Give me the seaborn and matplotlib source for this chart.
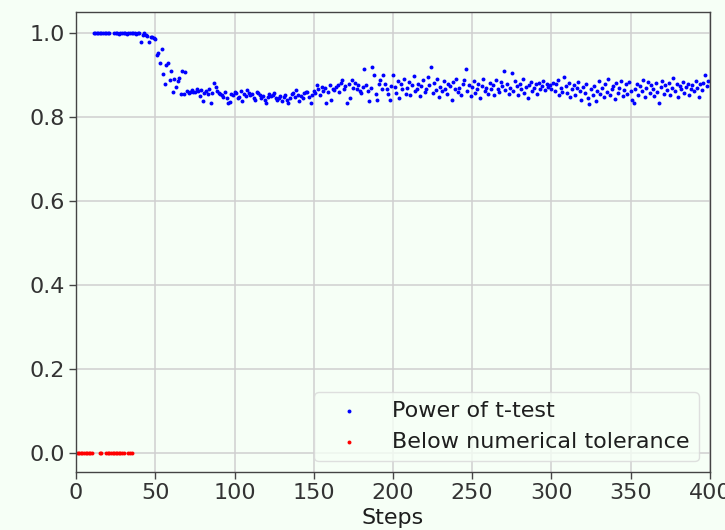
import numpy as np
import pandas as pd
import matplotlib
matplotlib.use("Agg")
import matplotlib.pyplot as plt
import seaborn as sns

# ---- data ----
blue_steps = list(range(11, 22)) + list(range(24, 400))
blue_values = (
    [1.0] * 11 +                                   # 11-21
    [1.0, 1.0, 1.0, 0.999, 1.0, 1.0, 1.0, 1.0, 0.999, 1.0,
     1.0, 1.0, 1.0, 1.0, 0.999, 1.0, 1.0] +        # 24-40
    [0.979, 0.995, 1.0, 0.996, 0.993, 0.980, 0.992, 0.990, 0.988, 0.986] +  # 41-50
    [0.948, 0.952, 0.930, 0.962, 0.902, 0.880, 0.924, 0.930, 0.888, 0.910,
     0.859, 0.892, 0.872, 0.886, 0.894, 0.856] +   # 51-66
    [0.910, 0.856, 0.908, 0.862, 0.858, 0.860, 0.864, 0.861, 0.859, 0.866,
     0.862, 0.850, 0.864, 0.838, 0.857, 0.862, 0.855, 0.866, 0.834, 0.858,
     0.882, 0.872, 0.862, 0.858, 0.855, 0.852, 0.848, 0.860, 0.845, 0.833,
     0.836, 0.856, 0.852, 0.860, 0.857, 0.845, 0.848, 0.862, 0.838, 0.855,
     0.850, 0.864, 0.858, 0.852, 0.856, 0.846, 0.840, 0.860, 0.857, 0.853,
     0.846, 0.850, 0.842, 0.833, 0.848, 0.855, 0.850, 0.852, 0.858, 0.846,
     0.842, 0.845, 0.850, 0.838, 0.848, 0.852, 0.841, 0.833, 0.845, 0.855,
     0.858, 0.847, 0.864, 0.852, 0.838, 0.850, 0.845, 0.857, 0.860, 0.860,
     0.848, 0.833, 0.852, 0.862] +                 # 67-150
    [0.858, 0.876, 0.866, 0.852, 0.873, 0.862, 0.870, 0.835, 0.861, 0.876,
     0.840, 0.868, 0.864, 0.872, 0.876, 0.860, 0.881, 0.888, 0.866, 0.874,
     0.835, 0.878, 0.845, 0.888, 0.870, 0.882, 0.866, 0.876, 0.862, 0.858,
     0.872, 0.914, 0.876, 0.862, 0.838, 0.870, 0.920, 0.900, 0.856, 0.841,
     0.878, 0.888, 0.866, 0.900, 0.880, 0.868, 0.855, 0.840, 0.874, 0.900] +  # 151-200
    [0.872, 0.858, 0.886, 0.846, 0.878, 0.866, 0.892, 0.856, 0.870, 0.884,
     0.852, 0.876, 0.898, 0.862, 0.868, 0.880, 0.850, 0.874, 0.888, 0.860,
     0.866, 0.896, 0.876, 0.920, 0.858, 0.882, 0.864, 0.890, 0.848, 0.872,
     0.862, 0.886, 0.868, 0.856, 0.880, 0.874, 0.842, 0.884, 0.866, 0.892,
     0.860, 0.870, 0.854, 0.878, 0.888, 0.915, 0.862, 0.876, 0.850, 0.872] +  # 201-250
    [0.886, 0.858, 0.868, 0.880, 0.846, 0.874, 0.890, 0.862, 0.870, 0.856,
     0.882, 0.866, 0.876, 0.852, 0.888, 0.868, 0.860, 0.884, 0.874, 0.909,
     0.864, 0.878, 0.856, 0.870, 0.905, 0.862, 0.886, 0.874, 0.852, 0.880,
     0.866, 0.890, 0.858, 0.872, 0.846, 0.876, 0.884, 0.862, 0.870, 0.878,
     0.856, 0.882, 0.868, 0.874, 0.886, 0.864, 0.880, 0.872, 0.876, 0.866] +  # 251-300
    [0.882, 0.862, 0.878, 0.888, 0.852, 0.870, 0.860, 0.895, 0.874, 0.858,
     0.882, 0.848, 0.866, 0.876, 0.854, 0.870, 0.884, 0.862, 0.842, 0.872,
     0.858, 0.880, 0.846, 0.831, 0.866, 0.852, 0.874, 0.838, 0.862, 0.886,
     0.856, 0.870, 0.848, 0.878, 0.860, 0.890, 0.852, 0.866, 0.874, 0.844,
     0.882, 0.858, 0.870, 0.886, 0.850, 0.864, 0.878, 0.856, 0.884, 0.862] +  # 301-350
    [0.840, 0.833, 0.868, 0.880, 0.854, 0.874, 0.862, 0.888, 0.848, 0.870,
     0.884, 0.858, 0.876, 0.866, 0.850, 0.882, 0.860, 0.835, 0.872, 0.886,
     0.856, 0.876, 0.864, 0.882, 0.852, 0.870, 0.893, 0.862, 0.878, 0.848,
     0.874, 0.866, 0.884, 0.858, 0.872, 0.880, 0.852, 0.868, 0.876, 0.862,
     0.886, 0.870, 0.848, 0.878, 0.864, 0.882, 0.900, 0.874, 0.886]          # 351-399
)

red_steps = [0, 1, 2, 3, 4, 5, 6, 7, 8, 9, 10, 15, 16,
             19, 20, 21, 22, 23, 24, 25, 26, 27, 28, 29, 30, 33, 34, 35]
red_values = [0.0] * len(red_steps)

x_ticks = [0, 50, 100, 150, 200, 250, 300, 350, 400]
y_ticks = [0.0, 0.2, 0.4, 0.6, 0.8, 1.0]

blue_df = pd.DataFrame({"Steps": blue_steps, "value": blue_values})
red_df = pd.DataFrame({"Steps": red_steps, "value": red_values})

# ---- style ----
bg = "#f6fff6"
sns.set_theme(style="whitegrid")
plt.rcParams.update({
    "font.family": ["DejaVu Sans"],
    "figure.facecolor": bg,
    "axes.facecolor": bg,
    "axes.edgecolor": "#444444",
    "grid.color": "#cfcfcf",
    "grid.linewidth": 1.1,
    "xtick.color": "#333333",
    "ytick.color": "#333333",
    "text.color": "#1e1e1e",
    "axes.labelcolor": "#1e1e1e",
})

fig = plt.figure(figsize=(7.25, 5.3), dpi=100)
ax = fig.add_axes([0.105, 0.109, 0.874, 0.868])

sns.scatterplot(data=blue_df, x="Steps", y="value", ax=ax, color="blue",
                s=8, linewidth=0, label="Power of t-test")
sns.scatterplot(data=red_df, x="Steps", y="value", ax=ax, color="red",
                s=8, linewidth=0, label="Below numerical tolerance")

ax.set_xlim(0, 400)
ax.set_ylim(-0.045, 1.05)
ax.set_xticks(x_ticks)
ax.set_yticks(y_ticks)
ax.set_yticklabels([f"{v:.1f}" for v in y_ticks])
ax.tick_params(axis="both", labelsize=16, length=5, width=1, direction="out",
               left=True, bottom=True, color="#444444", pad=3)
ax.set_xlabel("Steps", fontsize=16, labelpad=3)
ax.set_ylabel("")
for sp in ax.spines.values():
    sp.set_visible(True)
    sp.set_color("#444444")
    sp.set_linewidth(1.0)
ax.grid(True)

leg = ax.legend(loc="lower right", fontsize=16, handlelength=2.3,
                handletextpad=0.8, borderpad=0.4, labelspacing=0.5,
                framealpha=0.8, edgecolor="#d8d8d8", facecolor=bg,
                scatterpoints=1, markerscale=1.0)

fig.savefig("out.png", dpi=100, facecolor=bg)
